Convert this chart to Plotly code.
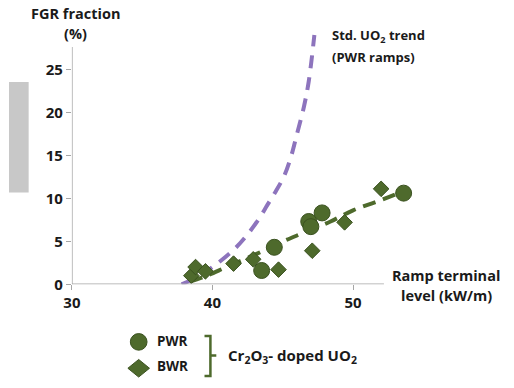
import plotly.graph_objects as go

W, H = 514, 388

# Data
pwr_x = [43.5, 44.4, 46.85, 47.0, 47.8, 53.6]
pwr_y = [1.6, 4.3, 7.3, 6.7, 8.3, 10.6]
bwr_x = [38.5, 38.8, 39.5, 41.5, 42.9, 44.7, 47.1, 49.4, 52.0]
bwr_y = [1.0, 2.0, 1.5, 2.4, 2.9, 1.7, 3.9, 7.2, 11.1]
cr_trend_x = [38.4, 39.3, 41.0, 43.1, 44.9, 46.5, 48.4, 50.0, 52.0, 54.0]
cr_trend_y = [0.3, 0.8, 2.0, 3.5, 4.9, 6.0, 7.3, 8.6, 9.8, 11.1]
std_trend_x = [37.8, 38.5, 40.0, 41.5, 42.4, 43.3, 43.9, 44.5, 45.1, 45.6, 46.0, 46.5, 46.85, 47.25]
std_trend_y = [0.0, 0.5, 2.0, 4.0, 5.6, 7.6, 9.2, 10.8, 12.6, 14.9, 17.4, 20.6, 23.6, 29.0]
x_ticks = [30, 40, 50]
y_ticks = [0, 5, 10, 15, 20, 25]

GREEN = "#4e6a2c"
GREEN_DARK = "#3b5220"
PURPLE = "#8d74bd"
TXT = "#1a1a1a"
FONT = "Open Sans"

L, R, T, B = 64, 436, 27, 291
XR = [30, 56]
YR = [0, 30]

def px(x):
    return x / W

def py(y):
    return 1 - y / H

fig = go.Figure()

fig.add_trace(go.Scatter(x=std_trend_x, y=std_trend_y, mode="lines",
                         line=dict(color=PURPLE, width=4, dash="13px,9px", shape="spline"),
                         hoverinfo="skip"))
fig.add_trace(go.Scatter(x=cr_trend_x, y=cr_trend_y, mode="lines",
                         line=dict(color=GREEN, width=4, dash="13px,8px", shape="spline"),
                         hoverinfo="skip"))
fig.add_trace(go.Scatter(x=bwr_x, y=bwr_y, mode="markers",
                         marker=dict(symbol="diamond", size=12, color=GREEN,
                                     line=dict(color=GREEN_DARK, width=1))))
fig.add_trace(go.Scatter(x=pwr_x, y=pwr_y, mode="markers",
                         marker=dict(symbol="circle", size=16, color=GREEN,
                                     line=dict(color=GREEN_DARK, width=1)), cliponaxis=False))

shapes = []
shapes.append(dict(type="rect", xref="paper", yref="paper", x0=0, x1=px(20), y0=py(197), y1=py(84),
                   fillcolor="#c8c8c8", line=dict(width=0), layer="below"))
shapes.append(dict(type="line", xref="x", yref="y", x0=30, x1=52.2, y0=0, y1=0,
                   line=dict(color="#a6a6a6", width=1.5)))
shapes.append(dict(type="line", xref="x", yref="y", x0=30, x1=30, y0=0, y1=27.6,
                   line=dict(color="#a6a6a6", width=1.5)))
# legend glyphs
shapes.append(dict(type="circle", xref="paper", yref="paper",
                   x0=px(123.5), x1=px(140.5), y0=py(358.5), y1=py(341.5),
                   fillcolor=GREEN, line=dict(color=GREEN_DARK, width=1)))
dx, dy = 11, 9
cx, cy = 132, 377
path = "M {} {} L {} {} L {} {} L {} {} Z".format(px(cx), py(cy - dy), px(cx + dx), py(cy),
                                                   px(cx), py(cy + dy), px(cx - dx), py(cy))
shapes.append(dict(type="path", xref="paper", yref="paper", path=path,
                   fillcolor=GREEN, line=dict(color=GREEN_DARK, width=1)))
# bracket
bx = 205
brk = "M {} {} L {} {} L {} {} L {} {} M {} {} L {} {}".format(
    px(199), py(344), px(bx), py(344), px(bx), py(385), px(199), py(385),
    px(bx), py(364), px(211), py(364))
shapes.append(dict(type="path", xref="paper", yref="paper", path=brk,
                   line=dict(color=GREEN, width=2.5)))

ann = []
def text(x, y, s, size=13, xanchor="center"):
    ann.append(dict(x=px(x), y=py(y), xref="paper", yref="paper", text=s, showarrow=False,
                    xanchor=xanchor, yanchor="middle",
                    font=dict(family=FONT, size=size, color=TXT, weight="bold")))

text(68, 14, "FGR fraction", 14.5)
text(68, 34, "(%)", 14.5)
text(327, 37, "Std. UO<sub>2</sub> trend", 13, "left")
text(327, 58, "(PWR ramps)", 13, "left")
text(445, 282, "Ramp terminal", 14.5)
text(445, 303, "level (kW/m)", 14.5)
text(149, 349, "PWR", 13.5, "left")
text(149, 375, "BWR", 13.5, "left")
text(221, 364, "Cr<sub>2</sub>O<sub>3</sub>- doped UO<sub>2</sub>", 15, "left")

fig.update_layout(
    width=W, height=H, margin=dict(l=0, r=0, t=0, b=0),
    paper_bgcolor="white", plot_bgcolor="white", showlegend=False,
    shapes=shapes, annotations=ann,
    xaxis=dict(domain=[L / W, R / W], range=XR, tickvals=x_ticks, ticks="outside",
               ticklen=5, tickcolor="#a6a6a6", showgrid=False, zeroline=False, showline=False,
               tickfont=dict(family=FONT, size=15, color=TXT, weight="bold")),
    yaxis=dict(domain=[1 - B / H, 1 - T / H], range=YR, tickvals=y_ticks, ticks="outside",
               ticklen=5, tickcolor="#a6a6a6", showgrid=False, zeroline=False, showline=False,
               tickfont=dict(family=FONT, size=15, color=TXT, weight="bold")),
)

fig.write_html("out.html", config={"displayModeBar": False},
               post_script="document.body.style.margin='0px';")
